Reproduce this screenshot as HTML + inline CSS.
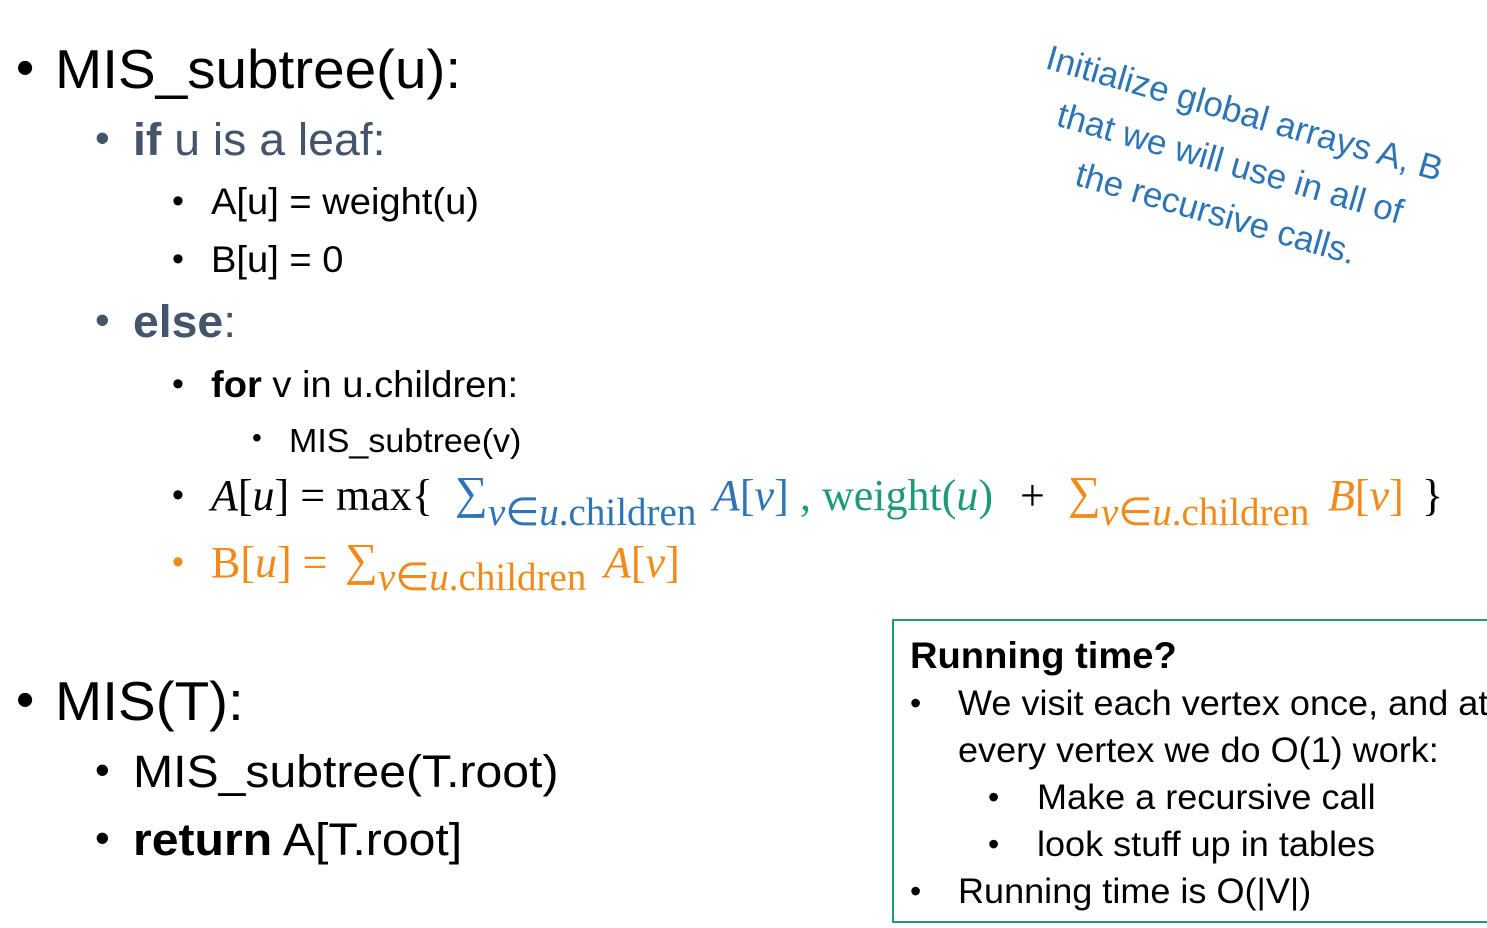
<!DOCTYPE html>
<html><head><meta charset="utf-8"><style>
html,body{margin:0;padding:0;background:#fff;}
body{width:1487px;height:928px;position:relative;overflow:hidden;font-family:"Liberation Sans",sans-serif;color:#000;}
.t{position:absolute;white-space:nowrap;line-height:1;transform-origin:0 0;}
.s{font-family:"Liberation Serif",serif;}
.g{color:#44546a;}
.bl{color:#2e75b6;}
.gr{color:#1e9a78;}
.or{color:#f28a1a;}
.k{transform:scaleX(1.03);}
.box{position:absolute;left:892px;top:619px;width:600px;height:304px;border:2px solid #1e9a78;box-sizing:border-box;}
</style></head><body>

<div class="t" style="left:16px;top:42px;font-size:52px;">•</div>
<div class="t k" style="left:55px;top:42px;font-size:55px;">MIS_subtree(u):</div>

<div class="t g" style="left:95px;top:117px;font-size:42px;">•</div>
<div class="t g k" style="left:133px;top:117px;font-size:45px;"><b>if</b> u is a leaf:</div>

<div class="t" style="left:172px;top:184px;font-size:34px;">•</div>
<div class="t k" style="left:211px;top:183px;font-size:37px;">A[u] = weight(u)</div>
<div class="t" style="left:172px;top:242px;font-size:34px;">•</div>
<div class="t k" style="left:211px;top:241px;font-size:37px;">B[u] = 0</div>

<div class="t g" style="left:95px;top:299px;font-size:42px;">•</div>
<div class="t g k" style="left:133px;top:299px;font-size:45px;"><b>else</b>:</div>

<div class="t" style="left:172px;top:367px;font-size:34px;">•</div>
<div class="t k" style="left:211px;top:366px;font-size:37px;"><b>for</b> v in u.children:</div>

<div class="t" style="left:252px;top:424px;font-size:28px;">•</div>
<div class="t k" style="left:289px;top:424px;font-size:33px;">MIS_subtree(v)</div>

<!-- formula A -->
<div class="t" style="left:172px;top:478px;font-size:34px;">•</div>
<div class="t s" style="left:211px;top:474px;font-size:44px;"><i>A</i>[<i>u</i>] = max{</div>
<div class="t s bl" style="left:455px;top:470px;font-size:46px;">∑</div>
<div class="t s bl" style="left:488px;top:493px;font-size:39px;"><i>v</i>∈<i>u</i>.children</div>
<div class="t s bl" style="left:713px;top:474px;font-size:44px;"><i>A</i>[<i>v</i>]</div>
<div class="t s gr" style="left:800px;top:474px;font-size:44px;">, weight(<i>u</i>)</div>
<div class="t s" style="left:1020px;top:474px;font-size:44px;">+</div>
<div class="t s or" style="left:1068px;top:470px;font-size:46px;">∑</div>
<div class="t s or" style="left:1101px;top:493px;font-size:39px;"><i>v</i>∈<i>u</i>.children</div>
<div class="t s or" style="left:1328px;top:474px;font-size:44px;"><i>B</i>[<i>v</i>]</div>
<div class="t s" style="left:1422px;top:474px;font-size:44px;">}</div>

<!-- formula B -->
<div class="t or" style="left:172px;top:545px;font-size:34px;">•</div>
<div class="t s or" style="left:211px;top:541px;font-size:44px;">B[<i>u</i>] =</div>
<div class="t s or" style="left:345px;top:537px;font-size:46px;">∑</div>
<div class="t s or" style="left:378px;top:558px;font-size:39px;"><i>v</i>∈<i>u</i>.children</div>
<div class="t s or" style="left:604px;top:541px;font-size:44px;"><i>A</i>[<i>v</i>]</div>

<div class="t" style="left:16px;top:674px;font-size:52px;">•</div>
<div class="t k" style="left:55px;top:674px;font-size:55px;">MIS(T):</div>

<div class="t" style="left:95px;top:749px;font-size:42px;">•</div>
<div class="t" style="left:133px;top:749px;font-size:45px;transform:scaleX(1.07);">MIS_subtree(T.root)</div>
<div class="t" style="left:95px;top:817px;font-size:42px;">•</div>
<div class="t" style="left:133px;top:817px;font-size:45px;transform:scaleX(1.07);"><b>return</b> A[T.root]</div>

<!-- rotated note -->
<div style="position:absolute;left:990px;top:86px;width:480px;text-align:center;transform:rotate(16deg);transform-origin:50% 50%;color:#2e75b6;font-size:35px;line-height:52px;white-space:nowrap;">
Initialize global arrays A, B<br>that we will use in all of<br>the recursive calls.
</div>

<div class="box"></div>
<div class="t k" style="left:910px;top:637px;font-size:37px;"><b>Running time?</b></div>
<div class="t" style="left:910px;top:687px;font-size:32px;">•</div>
<div class="t k" style="left:958px;top:686px;font-size:35px;">We visit each vertex once, and at</div>
<div class="t k" style="left:958px;top:733px;font-size:35px;">every vertex we do O(1) work:</div>
<div class="t" style="left:988px;top:781px;font-size:32px;">•</div>
<div class="t k" style="left:1037px;top:780px;font-size:35px;">Make a recursive call</div>
<div class="t" style="left:988px;top:828px;font-size:32px;">•</div>
<div class="t k" style="left:1037px;top:827px;font-size:35px;">look stuff up in tables</div>
<div class="t" style="left:910px;top:875px;font-size:32px;">•</div>
<div class="t k" style="left:958px;top:874px;font-size:35px;">Running time is O(|V|)</div>

</body></html>
